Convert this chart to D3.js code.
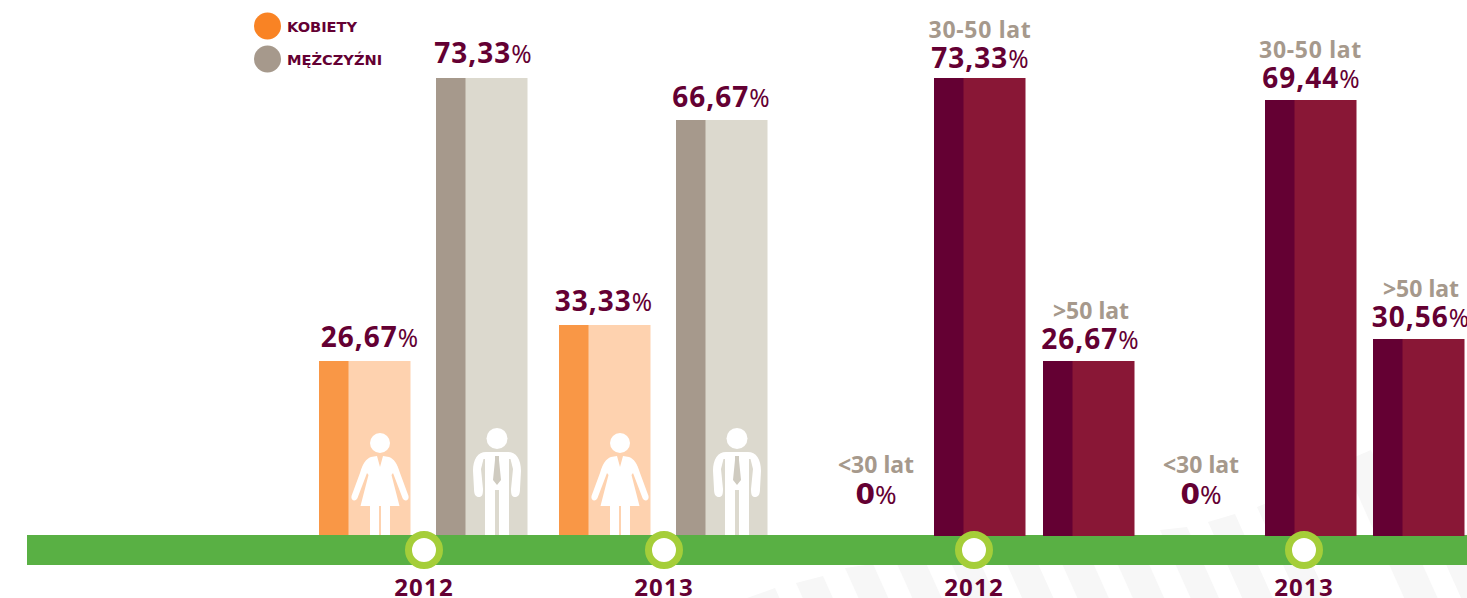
<!DOCTYPE html>
<html>
<head>
<meta charset="utf-8">
<script src="https://cdnjs.cloudflare.com/ajax/libs/d3/7.8.5/d3.min.js"></script>
<style>
  html, body { margin: 0; padding: 0; background: #fff; overflow: hidden; }
  svg { display: block; }
  text { font-family: "Noto Sans", "Open Sans", sans-serif; }
</style>
</head>
<body>
<div id="chart"></div>
<script>
// Gender and age split of staff, 2012 vs 2013
const genderBars = ['k2012', 'm2012', 'k2013', 'm2013'];
const genderValues = [26.67, 73.33, 33.33, 66.67];
const genderLabels = ['26,67', '73,33', '33,33', '66,67'];
const genderKinds = ['k', 'm', 'k', 'm'];

const ageBars = ['mid2012', 'old2012', 'mid2013', 'old2013'];
const ageValues = [73.33, 26.67, 69.44, 30.56];
const ageLabels = ['73,33', '26,67', '69,44', '30,56'];
const ageNames = ['30-50 lat', '>50 lat', '30-50 lat', '>50 lat'];

const zeroBars = ['young2012', 'young2013'];
const zeroName = '<30 lat';
const zeroLabel = '0';

const yearKeys = ['g2012', 'g2013', 'a2012', 'a2013'];
const yearLabels = ['2012', '2013', '2012', '2013'];

const legendNames = ['KOBIETY', 'MĘŻCZYŹNI'];

const width = 1467, height = 598;
const baseY = 535;
const barW = 91.5, darkW = 29.5;

const svg = d3.select('#chart').append('svg')
  .attr('width', width)
  .attr('height', height);

// bars in the original are not strictly proportional, so the scale is bent to the drawn heights
const y = d3.scaleLinear()
  .domain([0, 26.67, 30.56, 33.33, 66.67, 69.44, 73.33])
  .range([baseY, 361, 339, 325, 120, 100, 78]);

const barKeys = genderBars.concat(ageBars);
const x = d3.scaleOrdinal()
  .domain(barKeys)
  .range([319, 436, 559, 676, 934, 1043, 1265, 1373]);

// centre of each value label, they are not quite centred on the bars
const labelX = d3.scaleOrdinal()
  .domain(barKeys)
  .range([369.5, 483, 603.5, 721, 980, 1090, 1311, 1420.5]);

// distance from bar top to the label baseline
const labelGap = d3.scaleOrdinal()
  .domain(barKeys)
  .range([14, 15, 14, 13.5, 10, 12, 12, 12]);

const nameX = d3.scaleOrdinal()
  .domain(ageBars)
  .range([980, 1091, 1310.5, 1421]);

const zeroX = d3.scaleOrdinal().domain(zeroBars).range([876, 1201]);
const yearX = d3.scaleOrdinal().domain(yearKeys).range([424, 664, 974, 1304]);

const colors = {
  k: ['#f99746', '#fed2af'],
  m: ['#a6998c', '#dcd9ce'],
  a: ['#640033', '#891736']
};
const wine = '#640033';
const taupe = '#a6998c';

// faint watermark stripes behind the chart: left top, right top of each one
const stripes = svg.append('g').attr('fill', '#f7f7f7');
const stripeTops = [
  [747, 598, 775, 588], [796, 583, 823, 576], [845, 568, 873, 564], [893, 555, 921, 552],
  [943, 545, 971, 542], [996, 540, 1026, 537], [1050, 537, 1080, 534], [1104, 534, 1134, 531],
  [1160, 530, 1187, 527], [1208, 522, 1235, 514], [1257, 507, 1282, 497], [1343, 462, 1371, 450],
  [1390, 440, 1420, 430]
];
const stripeSlope = 0.45;
stripeTops.forEach(s => {
  stripes.append('path').attr('d', d3.line()([
    [s[0], s[1]], [s[2], s[3]],
    [s[2] + (height - s[3]) * stripeSlope, height], [s[0] + (height - s[1]) * stripeSlope, height]
  ]));
});

// figures, drawn in their own local coordinates
function womanIcon(g) {
  g.append('circle').attr('cx', 0).attr('cy', -92).attr('r', 10);
  g.append('path').attr('d', 'M-9,-78 L-3,-79 L0,-68 L3,-79 L9,-78 C14,-76 17,-72 20,-62 L28.5,-39 C29.5,-34 24,-33 22.5,-37 L13,-62 L11.5,-60 L19.5,-29 L-19.5,-29 L-11.5,-60 L-13,-62 L-22.5,-37 C-24,-33 -29.5,-34 -28.5,-39 L-20,-62 C-17,-72 -14,-76 -9,-78 Z');
  g.append('rect').attr('x', -10).attr('y', -30).attr('width', 9).attr('height', 30);
  g.append('rect').attr('x', 1).attr('y', -30).attr('width', 9).attr('height', 30);
}

function manIcon(g, fill) {
  g.append('circle').attr('cx', 0).attr('cy', -96.5).attr('r', 10.5);
  g.append('path').attr('d', 'M-11,-83 L11,-83 C19,-83 24,-76 24,-64 L23,-46 C23,-40 21,-38 18,-38 C15,-38 14,-40 14,-46 L16,-66 L13.5,-76 L12,-76 L12,0 L2,0 L2,-45 L-2,-45 L-2,0 L-12,0 L-12,-76 L-13.5,-76 L-16,-66 L-14,-46 C-14,-40 -15,-38 -18,-38 C-21,-38 -23,-40 -23,-46 L-24,-64 C-24,-76 -19,-83 -11,-83 Z');
  g.append('path').attr('fill', fill).attr('d', 'M-2,-79 L2,-79 L2,-75 L4,-55 L0,-50 L-4,-55 L-2,-75 Z');
}

function drawBar(key, value, cols, bottom) {
  const g = svg.append('g');
  g.append('rect').attr('x', x(key)).attr('y', y(value))
    .attr('width', barW).attr('height', bottom - y(value)).attr('fill', cols[1]);
  g.append('rect').attr('x', x(key)).attr('y', y(value))
    .attr('width', darkW).attr('height', bottom - y(value)).attr('fill', cols[0]);
}

function valueLabel(cx, yy, label) {
  const t = svg.append('text').attr('x', cx).attr('y', yy)
    .attr('text-anchor', 'middle').attr('fill', wine);
  t.append('tspan').text(label)
    .style('font-size', '28px').style('font-weight', 700).style('letter-spacing', '1px');
  t.append('tspan').text('%')
    .style('font-size', '24.5px').style('font-weight', 400);
}

function zeroValue(cx, yy, label) {
  const t = svg.append('text').attr('x', cx).attr('y', yy)
    .attr('text-anchor', 'middle').attr('fill', wine);
  t.append('tspan').text(label)
    .style('font-family', '"DejaVu Sans"').style('font-size', '28px').style('font-weight', 700);
  t.append('tspan').text('%')
    .style('font-size', '26px').style('font-weight', 400);
}

function ageName(cx, yy, label) {
  svg.append('text').attr('x', cx).attr('y', yy)
    .attr('text-anchor', 'middle').attr('fill', taupe)
    .style('font-size', '23px').style('font-weight', 700)
    .style('letter-spacing', label.startsWith('30') ? '0.7px' : '0px')
    .text(label);
}

genderBars.forEach((key, i) => {
  const cols = colors[genderKinds[i]];
  drawBar(key, genderValues[i], cols, baseY);
  valueLabel(labelX(key), y(genderValues[i]) - labelGap(key), genderLabels[i]);
  const icon = svg.append('g')
    .attr('fill', '#fff')
    .attr('transform', `translate(${x(key) + 61},${baseY})`);
  if (genderKinds[i] === 'k') womanIcon(icon);
  else manIcon(icon, '#cfcbc0');
});

svg.append('rect').attr('x', 27).attr('y', baseY).attr('width', width - 27).attr('height', 30).attr('fill', '#59b044');

// age bars overlap the green band by a pixel
ageBars.forEach((key, i) => {
  drawBar(key, ageValues[i], colors.a, baseY + 1);
  const top = y(ageValues[i]);
  const gap = labelGap(key);
  valueLabel(labelX(key), top - gap, ageLabels[i]);
  ageName(nameX(key), top - gap - 30, ageNames[i]);
});

zeroBars.forEach(key => {
  ageName(zeroX(key), 473, zeroName);
  zeroValue(zeroX(key), 504, zeroLabel);
});

yearKeys.forEach((key, i) => {
  svg.append('circle').attr('cx', yearX(key)).attr('cy', 550).attr('r', 15.5)
    .attr('fill', '#fff').attr('stroke', '#a5ce39').attr('stroke-width', 7);
  svg.append('text').attr('x', yearX(key)).attr('y', 596)
    .attr('text-anchor', 'middle').attr('fill', wine)
    .style('font-size', '24px').style('font-weight', 700).style('letter-spacing', '1.2px')
    .text(yearLabels[i]);
});

// legend
const legend = svg.append('g');
legendNames.forEach((name, i) => {
  const ly = 26 + i * 33;
  legend.append('circle').attr('cx', 267.5).attr('cy', ly).attr('r', 13.5)
    .attr('fill', i === 0 ? '#f98324' : taupe);
  legend.append('text').attr('x', 287).attr('y', ly + 6)
    .attr('fill', wine)
    .style('font-family', '"DejaVu Sans"')
    .style('font-size', '14.6px').style('font-weight', 700)
    .text(name);
});
</script>
</body>
</html>
